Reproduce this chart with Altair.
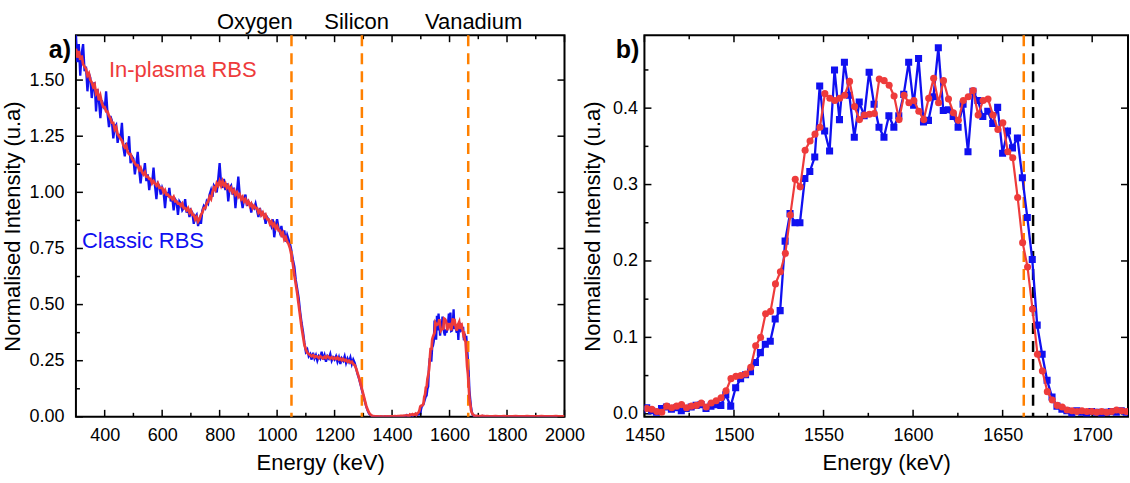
import altair as alt
import numpy as np
import pandas as pd

FONT = "Liberation Sans"
BLUE = "#1010F0"
RED = "#EE3B3B"
ORANGE = "#FF8000"

# ---------------- data ----------------
# Panel a, 300 .. 1445 keV on a 5 keV grid
A_START, A_STEP = 300, 5
classic_a = [
    1.70, 1.58, 1.66, 1.52, 1.62, 1.66, 1.54, 1.56, 1.45, 1.53,
    1.51, 1.42, 1.47, 1.49, 1.36, 1.46, 1.41, 1.33, 1.41, 1.39,
    1.37, 1.45, 1.35, 1.29, 1.34, 1.32, 1.24, 1.29, 1.30, 1.22,
    1.26, 1.24, 1.31, 1.20, 1.16, 1.22, 1.19, 1.25, 1.13, 1.16,
    1.15, 1.08, 1.13, 1.18, 1.10, 1.04, 1.10, 1.08, 1.13, 1.05,
    1.08, 1.01, 1.06, 1.04, 1.11, 1.03, 0.97, 1.04, 1.03, 0.99,
    1.02, 1.00, 0.93, 1.00, 0.98, 1.02, 0.96, 0.98, 0.92, 0.97,
    0.96, 0.90, 0.96, 0.95, 0.92, 0.93, 0.97, 0.91, 0.93, 0.89,
    0.92, 0.91, 0.86, 0.89, 0.90, 0.85, 0.88, 0.86, 0.92, 0.94,
    0.93, 0.96, 0.95, 0.99, 1.01, 0.98, 1.03, 1.02, 1.00, 1.06,
    1.13, 1.04, 1.02, 1.06, 1.01, 1.04, 0.96, 1.02, 1.03, 0.99,
    1.02, 0.93, 1.00, 1.07, 0.99, 0.97, 0.93, 0.97, 0.99, 0.94,
    0.96, 0.95, 0.91, 0.94, 0.93, 0.95, 0.92, 0.89, 0.93, 0.90,
    0.91, 0.90, 0.86, 0.89, 0.88, 0.87, 0.85, 0.88, 0.80, 0.85,
    0.88, 0.84, 0.82, 0.85, 0.80, 0.83, 0.78, 0.81, 0.79, 0.77,
    0.74, 0.70, 0.67, 0.61, 0.57, 0.53, 0.47, 0.42, 0.38, 0.33,
    0.29, 0.30, 0.27, 0.28, 0.255, 0.285, 0.26, 0.275, 0.25, 0.27,
    0.26, 0.29, 0.255, 0.275, 0.245, 0.27, 0.26, 0.28, 0.25, 0.265,
    0.255, 0.27, 0.245, 0.265, 0.235, 0.26, 0.25, 0.27, 0.24, 0.26,
    0.245, 0.265, 0.235, 0.255, 0.24, 0.215, 0.19, 0.17, 0.145, 0.12,
    0.095, 0.07, 0.046, 0.028, 0.015, 0.008, 0.004, 0.002, 0.001, 0.001,
    0.001, 0.000, 0.001, 0.001, 0.000, 0.001, 0.001, 0.000, 0.001, 0.001,
    0.001, 0.002, 0.001, 0.002, 0.002, 0.001, 0.003, 0.002, 0.004, 0.003,
]
plasma_a = [
    1.64, 1.60, 1.63, 1.59, 1.61, 1.57, 1.56, 1.55, 1.52, 1.53,
    1.50, 1.49, 1.47, 1.48, 1.44, 1.45, 1.41, 1.43, 1.40, 1.38,
    1.38, 1.36, 1.36, 1.34, 1.33, 1.31, 1.31, 1.28, 1.29, 1.26,
    1.25, 1.24, 1.23, 1.21, 1.20, 1.21, 1.18, 1.17, 1.17, 1.15,
    1.14, 1.13, 1.12, 1.12, 1.10, 1.11, 1.09, 1.08, 1.09, 1.07,
    1.07, 1.06, 1.06, 1.04, 1.05, 1.04, 1.03, 1.04, 1.02, 1.02,
    1.02, 1.00, 1.01, 0.99, 0.99, 0.98, 0.98, 0.97, 0.98, 0.96,
    0.96, 0.95, 0.95, 0.94, 0.95, 0.93, 0.93, 0.92, 0.93, 0.91,
    0.92, 0.90, 0.90, 0.88, 0.89, 0.87, 0.88, 0.90, 0.91, 0.93,
    0.93, 0.95, 0.96, 0.98, 0.97, 1.00, 1.02, 1.01, 1.04, 1.03,
    1.05, 1.03, 1.05, 1.03, 1.04, 1.02, 1.03, 1.01, 1.02, 1.00,
    1.01, 0.99, 1.00, 0.98, 0.99, 0.97, 0.98, 0.96, 0.97, 0.95,
    0.96, 0.94, 0.95, 0.93, 0.94, 0.93, 0.93, 0.91, 0.92, 0.90,
    0.91, 0.89, 0.90, 0.88, 0.88, 0.86, 0.87, 0.85, 0.86, 0.84,
    0.85, 0.83, 0.83, 0.81, 0.82, 0.79, 0.80, 0.78, 0.77, 0.75,
    0.72, 0.68, 0.63, 0.59, 0.55, 0.50, 0.45, 0.40, 0.36, 0.32,
    0.30, 0.285, 0.28, 0.275, 0.27, 0.275, 0.265, 0.27, 0.268, 0.262,
    0.27, 0.265, 0.26, 0.268, 0.262, 0.27, 0.265, 0.26, 0.266, 0.258,
    0.263, 0.258, 0.265, 0.255, 0.26, 0.252, 0.258, 0.25, 0.254, 0.245,
    0.25, 0.242, 0.245, 0.235, 0.23, 0.215, 0.195, 0.175, 0.15, 0.125,
    0.10, 0.075, 0.05, 0.032, 0.018, 0.01, 0.005, 0.003, 0.002, 0.002,
    0.002, 0.001, 0.002, 0.001, 0.001, 0.002, 0.001, 0.002, 0.001, 0.002,
    0.002, 0.002, 0.003, 0.002, 0.003, 0.003, 0.004, 0.004, 0.005, 0.006,
]

# Vanadium region (panel b, and also part of panel a), detector channels
B_STEP = 2.76
B_CLASSIC_START = 1448.5
B_PLASMA_START = 1451.4
classic_b = [
    0.005, 0.008, 0.004, 0.002, 0.007, 0.009, 0.006, 0.008, 0.004, 0.007,
    0.009, 0.011, 0.012, 0.007, 0.010, 0.012, 0.011, 0.025, 0.010, 0.034,
    0.046, 0.051, 0.055, 0.067, 0.080, 0.091, 0.095, 0.124, 0.135, 0.226,
    0.262, 0.250, 0.250, 0.308, 0.317, 0.336, 0.429, 0.370, 0.344, 0.450,
    0.385, 0.460, 0.417, 0.362, 0.408, 0.390, 0.447, 0.405, 0.375, 0.362,
    0.390, 0.375, 0.390, 0.418, 0.460, 0.404, 0.465, 0.382, 0.384, 0.415,
    0.479, 0.397, 0.398, 0.389, 0.375, 0.405, 0.343, 0.422, 0.410, 0.389,
    0.396, 0.380, 0.401, 0.341, 0.370, 0.348, 0.361, 0.309, 0.257, 0.202,
    0.116, 0.078, 0.044, 0.022, 0.010, 0.006, 0.004, 0.001, 0.004, 0.002,
    0.001, 0.003, 0.002, 0.001, 0.002, 0.003, 0.002, 0.004, 0.002, 0.003,
]
plasma_b = [
    0.007, 0.006, 0.003, 0.002, 0.010, 0.008, 0.010, 0.012, 0.008, 0.010,
    0.011, 0.014, 0.009, 0.014, 0.017, 0.021, 0.030, 0.046, 0.049, 0.050,
    0.052, 0.061, 0.089, 0.100, 0.131, 0.134, 0.170, 0.186, 0.210, 0.260,
    0.307, 0.297, 0.345, 0.357, 0.366, 0.375, 0.419, 0.413, 0.410, 0.413,
    0.417, 0.435, 0.402, 0.385, 0.391, 0.392, 0.393, 0.438, 0.436, 0.430,
    0.416, 0.385, 0.417, 0.407, 0.410, 0.396, 0.385, 0.413, 0.439, 0.407,
    0.436, 0.412, 0.394, 0.384, 0.410, 0.415, 0.423, 0.391, 0.410, 0.412,
    0.391, 0.372, 0.381, 0.343, 0.335, 0.283, 0.224, 0.192, 0.137, 0.078,
    0.056, 0.029, 0.018, 0.011, 0.009, 0.005, 0.004, 0.003, 0.004, 0.003,
    0.003, 0.002, 0.003, 0.002, 0.003, 0.005, 0.004, 0.003, 0.003, 0.002,
]

# Tail of panel a, 1730 .. 2000 keV on a 10 keV grid
T_START, T_STEP = 1730, 10
classic_tail = [0.002, 0.001, 0.002, 0.001, 0.001, 0.002, 0.001, 0.001, 0.002, 0.001,
                0.001, 0.002, 0.001, 0.001, 0.001, 0.002, 0.001, 0.001, 0.002, 0.001,
                0.001, 0.001, 0.002, 0.001, 0.001, 0.002, 0.001, 0.001]
plasma_tail = [0.003, 0.002, 0.002, 0.003, 0.002, 0.002, 0.003, 0.002, 0.002, 0.002,
               0.003, 0.002, 0.002, 0.002, 0.003, 0.002, 0.002, 0.002, 0.002, 0.003,
               0.002, 0.002, 0.002, 0.002, 0.003, 0.002, 0.002, 0.002]

edges_a = [1050, 1295, 1665]          # O, Si, V surface edges (keV)
edge_b_plasma = [1661.8]
edge_b_classic = [1667.0]

xa_major = [400, 600, 800, 1000, 1200, 1400, 1600, 1800, 2000]
xa_minor = [500, 700, 900, 1100, 1300, 1500, 1700, 1900]
ya_major = [0.0, 0.25, 0.5, 0.75, 1.0, 1.25, 1.5]
ya_minor = [0.125, 0.375, 0.625, 0.875, 1.125, 1.375, 1.625]
xb_major = [1450, 1500, 1550, 1600, 1650, 1700]
xb_minor = [1475, 1525, 1575, 1625, 1675]
yb_major = [0.0, 0.1, 0.2, 0.3, 0.4]
yb_minor = [0.05, 0.15, 0.25, 0.35, 0.45]

# ---------------- frames ----------------
e_a = A_START + A_STEP * np.arange(len(classic_a))
e_bc = B_CLASSIC_START + B_STEP * np.arange(len(classic_b))
e_bp = B_PLASMA_START + B_STEP * np.arange(len(plasma_b))
e_t = T_START + T_STEP * np.arange(len(classic_tail))

df_a_classic = pd.DataFrame({"E": np.concatenate([e_a, e_bc, e_t]),
                             "I": classic_a + classic_b + classic_tail})
df_a_plasma = pd.DataFrame({"E": np.concatenate([e_a, e_bp, e_t]),
                            "I": plasma_a + plasma_b + plasma_tail})
df_b_classic = pd.DataFrame({"E": e_bc, "I": classic_b})
df_b_plasma = pd.DataFrame({"E": e_bp, "I": plasma_b})

WA, WB, H = 489, 484, 382
MAJ, MIN = 7, 4


def vals(v):
    return pd.DataFrame({"v": v})


def make_x(field, domain, values, fmt):
    return alt.X(f"{field}:Q", scale=alt.Scale(domain=domain, nice=False, zero=False),
                 axis=alt.Axis(values=values, format=fmt, title="Energy (keV)",
                               labelFlush=False, labelPadding=10, titlePadding=8))


def make_y(field, domain, values, fmt, lp, tp):
    return alt.Y(f"{field}:Q", scale=alt.Scale(domain=domain, nice=False, zero=False),
                 axis=alt.Axis(values=values, format=fmt, labelFlush=False,
                               title="Normalised Intensity (u.a)",
                               labelPadding=lp, titlePadding=tp))


def tick_layers(xf, yf, W, xmaj, xmin, ymaj, ymin):
    layers = []
    for v, L in ((xmaj, MAJ), (xmin, MIN)):
        layers.append(alt.Chart(vals(v)).mark_rule(color="black", strokeWidth=1.5)
                      .encode(x=xf("v"), y=alt.value(H), y2=alt.value(H - L)))
        layers.append(alt.Chart(vals(v)).mark_rule(color="black", strokeWidth=1.5)
                      .encode(x=xf("v"), y=alt.value(0), y2=alt.value(L)))
    for v, L in ((ymaj, MAJ), (ymin, MIN)):
        layers.append(alt.Chart(vals(v)).mark_rule(color="black", strokeWidth=1.5)
                      .encode(y=yf("v"), x=alt.value(0), x2=alt.value(L)))
    layers.append(alt.Chart(vals(ymaj)).mark_rule(color="black", strokeWidth=1.5)
                  .encode(y=yf("v"), x=alt.value(W), x2=alt.value(W - MAJ)))
    return layers


def label(text, x, y, color="black", size=22, weight="normal", align="left"):
    return (alt.Chart(pd.DataFrame({"t": [text]}))
            .mark_text(font=FONT, fontSize=size, fontWeight=weight, color=color,
                       align=align, baseline="middle")
            .encode(text="t:N", x=alt.value(x), y=alt.value(y)))


# ---------------- panel a ----------------
xa = lambda f: make_x(f, [300, 2000], xa_major, "d")
ya = lambda f: make_y(f, [0, 1.7], ya_major, ".2f", 12, 4)

panel_a = alt.layer(
    alt.Chart(df_a_classic).mark_line(color=BLUE, strokeWidth=2.3, clip=True)
    .encode(x=xa("E"), y=ya("I")),
    *tick_layers(xa, ya, WA, xa_major, xa_minor, ya_major, ya_minor),
    alt.Chart(vals(edges_a)).mark_rule(color=ORANGE, strokeWidth=2.5, strokeDash=[11, 7])
    .encode(x=xa("v")),
    alt.Chart(df_a_plasma).mark_line(color=RED, strokeWidth=2.7, clip=True)
    .encode(x=xa("E"), y=ya("I")),
    label("a)", -16, 15, size=25, weight="bold", align="center"),
    label("In-plasma RBS", 33, 35, color=RED),
    label("Classic RBS", 6, 206, color=BLUE),
    label("Oxygen", 179, -13, align="center"),
    label("Silicon", 281, -13, align="center"),
    label("Vanadium", 398, -13, align="center"),
).properties(width=WA, height=H)

# ---------------- panel b ----------------
xb = lambda f: make_x(f, [1450, 1720], xb_major, "d")
yb = lambda f: make_y(f, [-0.004, 0.4955], yb_major, ".1f", 7, 8)

panel_b = alt.layer(
    *tick_layers(xb, yb, WB, xb_major, xb_minor, yb_major, yb_minor),
    alt.Chart(vals(edge_b_plasma)).mark_rule(color=ORANGE, strokeWidth=2.5, strokeDash=[11, 7])
    .encode(x=xb("v")),
    alt.Chart(vals(edge_b_classic)).mark_rule(color="black", strokeWidth=2.5, strokeDash=[11, 7])
    .encode(x=xb("v")),
    alt.Chart(df_b_classic).mark_line(color=BLUE, strokeWidth=2.3, clip=True)
    .encode(x=xb("E"), y=yb("I")),
    alt.Chart(df_b_classic).mark_point(shape="square", filled=True, size=50, color=BLUE,
                                       opacity=1, clip=True)
    .encode(x=xb("E"), y=yb("I")),
    alt.Chart(df_b_plasma).mark_line(color=RED, strokeWidth=2.2, clip=True)
    .encode(x=xb("E"), y=yb("I")),
    alt.Chart(df_b_plasma).mark_point(shape="circle", filled=True, size=50, color=RED,
                                      opacity=1, clip=True)
    .encode(x=xb("E"), y=yb("I")),
    label("b)", -17, 15, size=25, weight="bold", align="center"),
).properties(width=WB, height=H)

chart = (
    alt.hconcat(panel_a, panel_b, spacing=80, bounds="flush")
    .properties(padding={"left": 0, "top": 10, "right": 0, "bottom": 0},
                background="white")
    .configure_view(stroke="black", strokeWidth=2)
    .configure_axis(domain=False, ticks=False, grid=False,
                    labelFont=FONT, titleFont=FONT, labelFontSize=18, titleFontSize=22,
                    labelColor="black", titleColor="black", titleFontWeight="normal")
)

chart.save("out.html", embed_options={"renderer": "svg", "actions": False})
